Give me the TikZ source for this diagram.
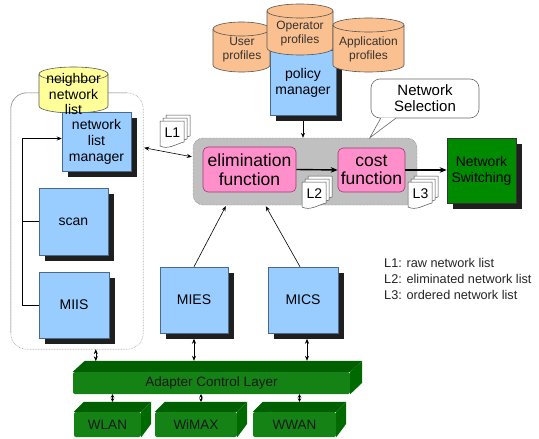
\documentclass[tikz,border=0pt]{standalone}
\usepackage{fontspec}
\setmainfont{Liberation Sans}
\usetikzlibrary{shadows,calc,arrows.meta}
\definecolor{boxblue}{HTML}{99CCFF}
\definecolor{bluedraw}{HTML}{4A6A8A}
\definecolor{pinkf}{HTML}{FF8FCB}
\definecolor{pinkd}{HTML}{9A3A70}
\definecolor{orangef}{HTML}{FBC08F}
\definecolor{yellowf}{HTML}{FFFF99}
\definecolor{cyldraw}{HTML}{555555}
\definecolor{nswgreen}{HTML}{008A00}
\definecolor{barfront}{HTML}{148214}
\definecolor{bartop}{HTML}{005F00}
\definecolor{barside}{HTML}{006A00}
\definecolor{selgrey}{HTML}{C0C0C0}
\newcommand\drawcyl[5]{%
  \filldraw[fill=#5, draw=cyldraw, line width=.6pt] (#1-#4,#2) -- (#1-#4,#3)
    arc[start angle=180,end angle=360,x radius=#4pt,y radius=7pt] -- (#1+#4,#2)
    arc[start angle=0,end angle=180,x radius=#4pt,y radius=7pt] -- cycle;
  \draw[draw=cyldraw, line width=.6pt] (#1-#4,#2)
    arc[start angle=180,end angle=360,x radius=#4pt,y radius=7pt];}
\begin{document}
\begin{tikzpicture}[x=1pt,y=-1pt,
  bluebox/.style={draw=bluedraw, fill=boxblue, line width=.5pt, align=center, inner sep=0pt,
    general shadow={fill=black!88, shadow xshift=5.5pt, shadow yshift=-5.5pt},
    font=\fontsize{14}{16}\selectfont},
  pinkbox/.style={draw=pinkd, fill=pinkf, line width=.6pt, rounded corners=5pt, align=center,
    inner sep=0pt, font=\fontsize{17.5}{18.5}\selectfont},
  cyltext/.style={align=center, inner sep=0pt, text=black!80, font=\fontsize{12}{14}\selectfont},
  bar/.style={fill=barfront, rounded corners=2pt, inner sep=0pt, text=black!90,
    font=\fontsize{13.5}{14}\selectfont},
  arr/.style={-{Stealth[length=5pt,width=4pt]}, line width=.6pt},
  darr/.style={{Stealth[length=5pt,width=4pt]}-{Stealth[length=5pt,width=4pt]}, line width=.6pt},
  sdarr/.style={{Stealth[length=3.5pt,width=3.5pt]}-{Stealth[length=3.5pt,width=3.5pt]}, line width=.6pt},
  thickarr/.style={-{Stealth[length=7pt,width=5.5pt]}, line width=1.4pt},
  pics/docs/.style={code={
    \foreach \dd in {6,3,0} {
      \filldraw[fill=white, draw=black!70, line width=.5pt] (\dd,-\dd) -- ++(0,25)
        .. controls +(8,4) and +(-8,2) .. ++(24,-4) -- ++(0,-21) -- cycle;}
    \node[inner sep=0pt, font=\fontsize{14}{15}\selectfont] (-t) at (12.5,11.5) {#1};
  }}
]
\useasboundingbox (0,0) rectangle (539,439);
\fill[white] (0,0) rectangle (539,439);

% left panel
\node[minimum width=132pt, minimum height=256pt] (lp) at (77,221) {};
\draw[gray!80, line width=.6pt, densely dotted, rounded corners=16pt]
  (lp.north west) rectangle (lp.south east);
\draw[gray!80, line width=.6pt, rounded corners=16pt]
  ($(lp.south west)+(0,-16)$) -- (lp.north west) -- ($(lp.north east)+(-16,0)$);
\drawcyl{73.5}{74}{106}{34.5}{yellowf}
\node[bluebox, minimum width=69pt, minimum height=59pt] (nlm) at (96.5,141.5) {network\\list\\manager};
\node[cyltext, text=black, font=\fontsize{14}{15.5}\selectfont] (nbr) at (73.5,94) {neighbor\\network\\list};
\node[bluebox, minimum width=69pt, minimum height=67pt] (scan) at (73.5,221.5) {scan};
\node[bluebox, minimum width=70pt, minimum height=66pt] (miis) at (74,305) {MIIS};
\coordinate (bus) at (22,0);
\draw[arr] (miis.west) -- (miis.west -| bus) |- ($(nlm.west)+(0,-3)$);
\draw[line width=.6pt] (scan.west) -- (scan.west -| bus);

% policy manager + profiles
\node[bluebox, minimum width=66pt, minimum height=65pt] (pm) at (303,82.5) {policy\\manager};
\drawcyl{241.5}{29}{65}{28.5}{orangef}
\node[cyltext] (usr) at (242,50) {User\\profiles};
\drawcyl{300}{11}{48}{33}{orangef}
\node[cyltext] (opr) at (300,34) {Operator\\profiles};
\drawcyl{368.5}{25}{65}{35.5}{orangef}
\node[cyltext] (app) at (368.5,49) {Application\\profiles};

% network selection block
\node[draw=gray!70!black, densely dotted, fill=selgrey, rounded corners=10pt, minimum width=224pt, minimum height=67pt] (sel) at (305,171.5) {};
\node[pinkbox, minimum width=93pt, minimum height=45pt] (elim) at (249.5,169.5) {elimination\\function};
\node[pinkbox, minimum width=67pt, minimum height=44pt] (cost) at (371.5,170) {cost\\function};
\node[draw=black!80, fill=nswgreen, line width=.6pt, align=center, inner sep=0pt,
  general shadow={fill=black!88, shadow xshift=6pt, shadow yshift=-6pt},
  minimum width=69pt, minimum height=65pt, font=\fontsize{14}{16}\selectfont] (nsw) at (481.5,170.5) {Network\\Switching};

% callout
\node[draw=gray!80!black, fill=white, line width=.6pt, rounded corners=9pt, align=center,
  minimum width=108pt, minimum height=39pt, font=\fontsize{15}{16}\selectfont] (nsel) at (425,98.5) {Network\\Selection};
\coordinate (tip) at ($(sel.north west)+(177,0)$);
\fill[white] ($(nsel.south west)+(10,-0.8)$) -- (tip) -- ($(nsel.south west)+(25,-0.8)$) -- cycle;
\draw[gray!80!black, line width=.6pt] ($(nsel.south west)+(10,0)$) -- (tip) -- ($(nsel.south west)+(25,0)$);

% document stacks
\pic (l1) at (160,121) {docs=L1};
\pic (l2) at (302,182) {docs=L2};
\pic (l3) at (408,182) {docs=L3};

% MIES / MICS
\node[bluebox, minimum width=68pt, minimum height=66pt] (mies) at (194,300) {MIES};
\node[bluebox, minimum width=70pt, minimum height=66pt] (mics) at (303,300) {MICS};

% legend
\node[anchor=west, align=left, inner sep=0pt, text=black!85, font=\fontsize{12.7}{16}\selectfont] (legend) at (384,279)
  {L1: raw network list\\L2: eliminated network list\\L3: ordered network list};

% bars
\node[bar, minimum width=277pt, minimum height=22pt] (acl) at (211.5,383) {Adapter Control Layer};
\fill[bartop] (acl.north west) -- ++(12,-11) -- ($(acl.north east)+(12,-11)$) -- (acl.north east) -- cycle;
\fill[barside] (acl.north east) -- ++(12,-11) -- ++(0,22) -- (acl.south east) -- cycle;
\node[bar, minimum width=67pt, minimum height=25pt] (wlan) at (107.5,424.5) {WLAN};
\node[bar, minimum width=82pt, minimum height=25pt] (wimax) at (196,424.5) {WiMAX};
\node[bar, minimum width=83pt, minimum height=25pt] (wwan) at (294.5,424.5) {WWAN};
\foreach \b in {wlan,wimax,wwan} {
  \fill[bartop] (\b.north west) -- ++(10,-10) -- ($(\b.north east)+(10,-10)$) -- (\b.north east) -- cycle;
  \fill[barside] (\b.north east) -- ++(10,-10) -- ++(0,22) -- (\b.south east) -- cycle;
}

% connectors
\draw[arr] ($(pm.south)+(0,6)$) -- (pm.south |- sel.north);
\draw[thickarr] (elim.east) -- (cost.west);
\draw[thickarr] (cost.east) -- (cost.east -| nsw.west);
\draw[darr] ($(lp.north east)+(1,55)$) -- ($(sel.north west)+(-1,19)$);
\draw[arr] (mies.north) -- ($(sel.south west)+(33,1)$);
\draw[arr] ($(mics.north)+(-3,0)$) -- ($(sel.south west)+(73,1)$);
\draw[darr] ($(lp.south west)+(85,0)$) -- ($(lp.south west)+(85,12)$);
\draw[darr] ($(mies.south)+(0,5.5)$) -- ($(mies.south |- acl.north)+(0,-11)$);
\draw[darr] ($(mics.south)+(4,5.5)$) -- ($(mics.south |- acl.north)+(4,-11)$);
\foreach \b in {wlan,wimax,wwan} {
  \coordinate (\b-c) at ($(\b.north)+(5,-10)$);
  \draw[sdarr] (\b-c) -- (\b-c |- acl.south);
}
\end{tikzpicture}
\end{document}
